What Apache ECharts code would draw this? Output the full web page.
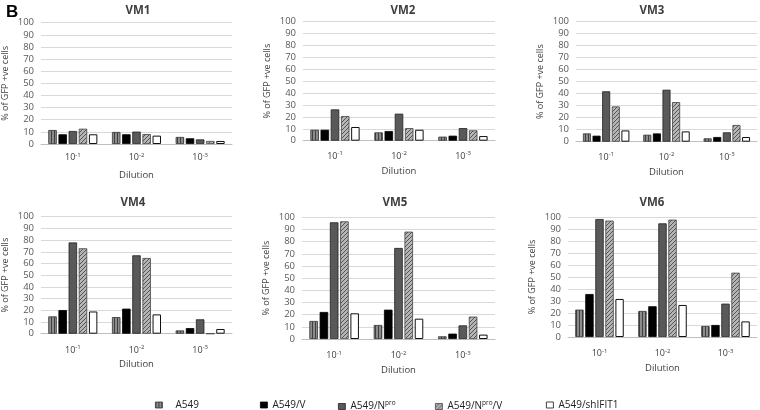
<!DOCTYPE html>
<html><head><meta charset="utf-8">
<script src="https://cdn.jsdelivr.net/npm/echarts@6/dist/echarts.min.js"></script>
<style>html,body{margin:0;padding:0;background:#fff}#c{width:760px;height:410px}</style>
</head><body><div id="c"></div>
<script>
const categories = ['10-1', '10-2', '10-3'];
const seriesNames = ['A549', 'A549/V', 'A549/Npro', 'A549/Npro/V', 'A549/shIFIT1'];
const panelTitles = ['VM1', 'VM2', 'VM3', 'VM4', 'VM5', 'VM6'];
const yTicks = [0, 10, 20, 30, 40, 50, 60, 70, 80, 90, 100];
// values per panel: [series][category]
const vm1 = [[11.5, 9.9, 5.8], [8, 8, 4.7], [10.7, 10.2, 3.8], [12.6, 8.2, 2.5], [8, 6.9, 2.5]];
const vm2 = [[9.2, 7, 3.4], [9.2, 8.1, 4.2], [26.3, 22.7, 10.6], [20.7, 10.6, 8.7], [11.5, 9.2, 3.9]];
const vm3 = [[6.9, 5.8, 2.8], [5, 6.9, 3.9], [42, 43.3, 7.8], [29.4, 33, 13.9], [9.4, 8.6, 3.9]];
const vm4 = [[14.8, 14.2, 2.8], [20.2, 21.4, 4.8], [78, 67, 12.3], [73, 64.7, 0], [19, 16.5, 4]];
const vm5 = [[14.8, 11.5, 2.2], [22.2, 24.1, 4.4], [95.9, 74.8, 11.2], [96.7, 88.2, 18.4], [21.1, 16.7, 3.6]];
const vm6 = [[22.8, 21.7, 9.2], [35.8, 25.6, 10], [98.3, 94.7, 27.8], [97, 97.8, 53.6], [31.7, 26.7, 13]];
const panels = [vm1, vm2, vm3, vm4, vm5, vm6];

function mkCanvas(w, h, draw) {
  const c = document.createElement('canvas'); c.width = w; c.height = h;
  draw(c.getContext('2d')); return c;
}
const stripe = mkCanvas(3, 4, g => {
  g.fillStyle = '#8c8c8c'; g.fillRect(0, 0, 3, 4);
  g.fillStyle = '#3f3f3f'; g.fillRect(0, 0, 1, 4);
});
const hatch = mkCanvas(4, 4, g => {
  g.fillStyle = '#b5b5b5'; g.fillRect(0, 0, 4, 4);
  g.fillStyle = '#555555';
  for (let i = 0; i < 4; i++) g.fillRect(3 - i, i, 1, 1);
});
const styles = [
  { color: { image: stripe, repeat: 'repeat' }, borderColor: '#333', borderWidth: 0.8 },
  { color: '#000', borderColor: '#000', borderWidth: 0.8 },
  { color: '#595959', borderColor: '#222', borderWidth: 0.8 },
  { color: { image: hatch, repeat: 'repeat' }, borderColor: '#444', borderWidth: 0.8 },
  { color: '#fff', borderColor: '#111', borderWidth: 1 }
];

const grids = [
  { left: 38, top: 22.7, width: 194, height: 121.3 },
  { left: 303, top: 21.7, width: 192, height: 119 },
  { left: 576, top: 21.7, width: 181, height: 120 },
  { left: 39, top: 216.7, width: 193, height: 117 },
  { left: 302, top: 217.3, width: 193, height: 121.7 },
  { left: 568, top: 217, width: 189, height: 120 }
];
const titlePos = [[133, 0], [398, 0], [647, 0], [128, 192], [390, 192], [647, 192]];
const labelMargin = [8, 10, 10, 11, 11, 11];
const font = 'Open Sans';

const option = {
  animation: false,
  backgroundColor: '#fff',
  textStyle: { fontFamily: font },
  title: [{ text: 'B', left: 1, top: -1, textStyle: { fontSize: 17, fontWeight: 'bold', color: '#000', fontFamily: 'Liberation Sans' } }]
    .concat(panelTitles.map((t, i) => ({
      text: t, left: titlePos[i][0], top: titlePos[i][1], textAlign: 'center',
      textStyle: { fontSize: 11.5, fontWeight: 'bold', color: '#404040', fontFamily: font }
    }))),
  grid: grids.map(g => Object.assign({ containLabel: false }, g)),
  xAxis: grids.map((g, i) => ({
    type: 'category', gridIndex: i, data: categories,
    name: 'Dilution', nameLocation: 'middle', nameGap: 26,
    nameTextStyle: { fontSize: 9.5, color: '#404040', fontFamily: font },
    axisLine: { lineStyle: { color: '#bfbfbf' } },
    axisTick: { show: false },
    axisLabel: {
      margin: labelMargin[i], color: '#404040', fontSize: 9, fontFamily: font,
      formatter: v => '10{sup|' + v.slice(2) + '}',
      rich: { sup: { fontSize: 6, verticalAlign: 'top', padding: [0, 0, 5, 0], color: '#404040', fontFamily: font } }
    }
  })),
  yAxis: grids.map((g, i) => ({
    type: 'value', gridIndex: i, min: yTicks[0], max: yTicks[yTicks.length - 1], interval: yTicks[1] - yTicks[0],
    name: '% of GFP +ve cells', nameLocation: 'middle', nameGap: 31,
    nameTextStyle: { fontSize: 9, color: '#404040', fontFamily: font },
    axisLine: { show: false }, axisTick: { show: false },
    axisLabel: { color: '#595959', fontSize: 9.5, margin: 7, fontFamily: font },
    splitLine: { lineStyle: { color: '#d9d9d9', width: 1 } }
  })),
  legend: seriesNames.map((n, k) => ({
    data: [n], left: [150, 255, 333, 430, 541][k], top: 395,
    itemWidth: 7, itemHeight: 6, icon: 'rect',
    itemStyle: { borderWidth: 0.8 },
    formatter: name => name.replace('Npro', 'N{sup|pro}'),
    textStyle: {
      fontSize: 10, color: '#222', fontFamily: font, padding: k === 0 ? [0, 0, 0, 8] : 0,
      rich: { sup: { fontSize: 6.5, verticalAlign: 'top', padding: [0, 0, 6, 0], color: '#222', fontFamily: font } }
    },
    itemGap: 4
  })),
  series: []
};
panels.forEach((p, i) => {
  seriesNames.forEach((n, k) => {
    option.series.push({
      type: 'bar', name: n, xAxisIndex: i, yAxisIndex: i,
      data: p[k], itemStyle: styles[k],
      barGap: '20%', barCategoryGap: '23%'
    });
  });
});
const chart = echarts.init(document.getElementById('c'), null, { renderer: 'canvas' });
chart.setOption(option);
</script></body></html>
